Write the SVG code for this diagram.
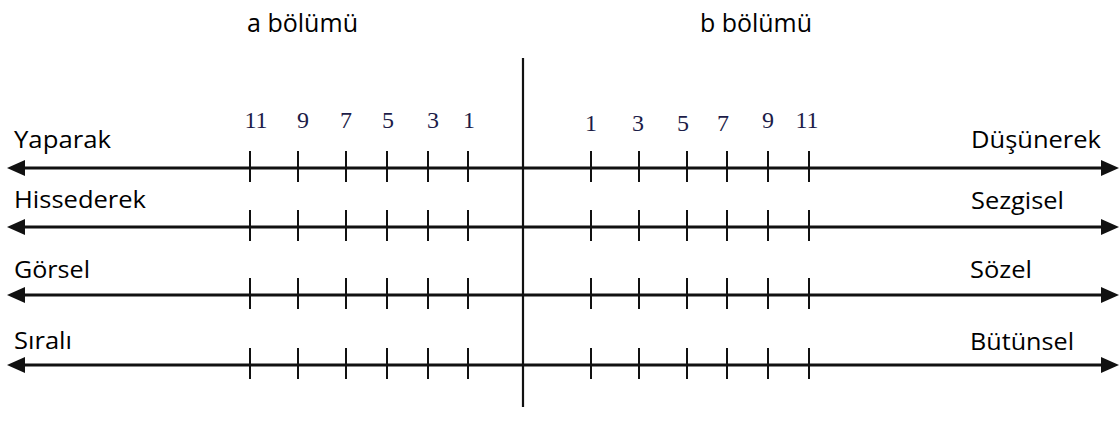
<svg xmlns="http://www.w3.org/2000/svg" width="1119" height="433" viewBox="0 0 1119 433">
<defs>
<style>
.lbl{font-family:"Open Sans","Noto Sans",sans-serif;font-size:23.5px;fill:#000}
.hdr{font-family:"Open Sans","Noto Sans",sans-serif;font-size:25px;fill:#000}
.num{font-family:"Liberation Serif","Times New Roman",serif;font-size:24px;fill:#1c1c48;text-anchor:middle}
.axis{stroke:#111;stroke-width:3;fill:none}
.tick{stroke:#111;stroke-width:2}
.div{stroke:#111;stroke-width:2.2}
</style>
<marker id="ah" markerUnits="userSpaceOnUse" markerWidth="19" markerHeight="17" refX="7" refY="8" orient="auto-start-reverse">
<path d="M0,0 L18,8 L0,16 z" fill="#111"/>
</marker>
<g id="ticks">
<line class="tick" x1="250" y1="-17" x2="250" y2="14"/>
<line class="tick" x1="298" y1="-17" x2="298" y2="14"/>
<line class="tick" x1="346" y1="-17" x2="346" y2="14"/>
<line class="tick" x1="387" y1="-17" x2="387" y2="14"/>
<line class="tick" x1="428" y1="-17" x2="428" y2="14"/>
<line class="tick" x1="468" y1="-17" x2="468" y2="14"/>
<line class="tick" x1="591" y1="-17" x2="591" y2="14"/>
<line class="tick" x1="639" y1="-17" x2="639" y2="14"/>
<line class="tick" x1="687" y1="-17" x2="687" y2="14"/>
<line class="tick" x1="727" y1="-17" x2="727" y2="14"/>
<line class="tick" x1="768" y1="-17" x2="768" y2="14"/>
<line class="tick" x1="809" y1="-17" x2="809" y2="14"/>
</g>
</defs>
<rect width="1119" height="433" fill="#fff"/>

<g id="headers">
<text class="hdr" x="247" y="32" textLength="111" lengthAdjust="spacingAndGlyphs">a bölümü</text>
<text class="hdr" x="700" y="32" textLength="112" lengthAdjust="spacingAndGlyphs">b bölümü</text>
</g>

<g id="numbers">
<text class="num" x="256" y="128">11</text>
<text class="num" x="303" y="128">9</text>
<text class="num" x="346" y="128">7</text>
<text class="num" x="388" y="128">5</text>
<text class="num" x="433" y="128">3</text>
<text class="num" x="469" y="128">1</text>
<text class="num" x="591" y="131">1</text>
<text class="num" x="638" y="131">3</text>
<text class="num" x="683" y="131">5</text>
<text class="num" x="723" y="131">7</text>
<text class="num" x="768" y="128">9</text>
<text class="num" x="807" y="128">11</text>
</g>

<g id="connectors">
<line class="div" x1="523" y1="58" x2="523" y2="407"/>
<line class="axis" x1="18" y1="168" x2="1108" y2="168" marker-start="url(#ah)" marker-end="url(#ah)"/>
<line class="axis" x1="18" y1="227" x2="1108" y2="227" marker-start="url(#ah)" marker-end="url(#ah)"/>
<line class="axis" x1="18" y1="295" x2="1108" y2="295" marker-start="url(#ah)" marker-end="url(#ah)"/>
<line class="axis" x1="18" y1="365" x2="1108" y2="365" marker-start="url(#ah)" marker-end="url(#ah)"/>
<use href="#ticks" y="168"/>
<use href="#ticks" y="227"/>
<use href="#ticks" y="295"/>
<use href="#ticks" y="365"/>
</g>

<g id="row1">
<text class="lbl" x="14" y="148" textLength="97" lengthAdjust="spacingAndGlyphs">Yaparak</text>
<text class="lbl" x="971" y="148" textLength="130" lengthAdjust="spacingAndGlyphs">Düşünerek</text>
</g>
<g id="row2">
<text class="lbl" x="14" y="208" textLength="132" lengthAdjust="spacingAndGlyphs">Hissederek</text>
<text class="lbl" x="971" y="209" textLength="93" lengthAdjust="spacingAndGlyphs">Sezgisel</text>
</g>
<g id="row3">
<text class="lbl" x="14" y="278" textLength="76" lengthAdjust="spacingAndGlyphs">Görsel</text>
<text class="lbl" x="970" y="278" textLength="62" lengthAdjust="spacingAndGlyphs">Sözel</text>
</g>
<g id="row4">
<text class="lbl" x="14" y="349" textLength="58" lengthAdjust="spacingAndGlyphs">Sıralı</text>
<text class="lbl" x="970" y="350" textLength="104" lengthAdjust="spacingAndGlyphs">Bütünsel</text>
</g>
</svg>
